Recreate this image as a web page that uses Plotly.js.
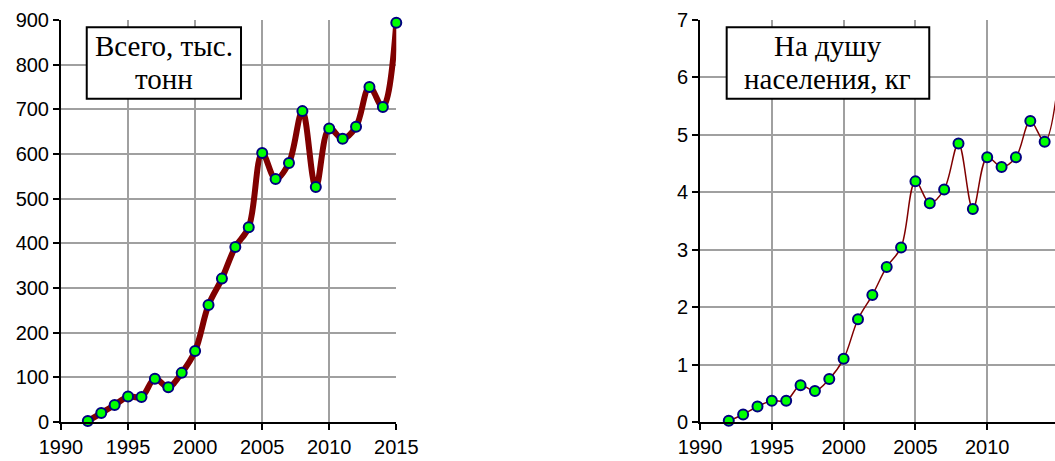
<!DOCTYPE html>
<html>
<head>
<meta charset="utf-8">
<script src="https://cdn.plot.ly/plotly-3.0.1.min.js"></script>
<style>html,body{margin:0;padding:0;background:#fff;overflow:hidden}</style>
</head>
<body>
<div id="chart" style="width:1055px;height:461px"></div>
<script>
const years = [1992,1993,1994,1995,1996,1997,1998,1999,2000,2001,2002,2003,2004,2005,2006,2007,2008,2009,2010,2011,2012,2013,2014,2015];
const totalThousandTonnes = [2,20,38,57,56,97,78,110,159,262,321,392,436,602,544,580,696,526,657,634,661,750,705,894];
const perCapitaKg = [0.02,0.13,0.27,0.37,0.37,0.64,0.54,0.75,1.10,1.79,2.21,2.70,3.04,4.19,3.81,4.05,4.85,3.71,4.61,4.44,4.61,5.24,4.88,6.06];
const xTicks = [1990,1995,2000,2005,2010,2015];
const leftLabelLines = ['Всего, тыс.', 'тонн'];
const rightLabelLines = ['На душу', 'населения, кг'];

const marker = {size: 10, color: '#00ff00', line: {color: '#000080', width: 2}};
const traces = [
  {x: years, y: totalThousandTonnes, xaxis: 'x', yaxis: 'y', mode: 'lines+markers',
   line: {color: '#800000', width: 6, shape: 'spline', smoothing: 1}, marker: marker, cliponaxis: false},
  {x: years, y: perCapitaKg, xaxis: 'x2', yaxis: 'y2', mode: 'lines+markers',
   line: {color: '#800000', width: 1.5, shape: 'spline', smoothing: 1}, marker: marker, cliponaxis: false}
];

const tickFont = {family: 'Liberation Sans, Arial, sans-serif', size: 20, color: '#000'};
const xBase = {tickvals: xTicks, ticktext: xTicks.map(String), ticks: 'outside', ticklen: 6, tickwidth: 2, tickcolor: '#000',
  showline: true, linecolor: '#000', linewidth: 2, showgrid: true, gridcolor: '#a0a0a0', gridwidth: 2,
  zeroline: false, tickfont: tickFont, fixedrange: true};
const yBase = {ticks: 'outside', ticklen: 6, tickwidth: 2, tickcolor: '#000',
  showline: true, linecolor: '#000', linewidth: 2, showgrid: true, gridcolor: '#a0a0a0', gridwidth: 2,
  zeroline: false, tickfont: tickFont, fixedrange: true};

const serif = {family: 'Liberation Serif, Times New Roman, serif', size: 29, color: '#000'};
function label(x, y, text) {
  return {xref: 'paper', yref: 'paper', x: x, y: y, xanchor: 'center', yanchor: 'middle',
    text: text, showarrow: false, font: serif, align: 'center'};
}

const layout = {
  width: 1055, height: 461,
  margin: {l: 61, r: 0, t: 20, b: 39},
  showlegend: false,
  paper_bgcolor: '#fff', plot_bgcolor: '#fff',
  xaxis: Object.assign({}, xBase, {domain: [0, 0.3373], range: [1990, 2015], anchor: 'y'}),
  yaxis: Object.assign({}, yBase, {domain: [0, 1], range: [0, 900], dtick: 100, tick0: 0, anchor: 'x'}),
  xaxis2: Object.assign({}, xBase, {domain: [0.6429, 1], range: [1990, 2014.72], anchor: 'y2'}),
  yaxis2: Object.assign({}, yBase, {domain: [0, 1], range: [0, 7], dtick: 1, tick0: 0, anchor: 'x2'}),
  shapes: [
    {type: 'rect', xref: 'paper', yref: 'paper', x0: 0.0259, x1: 0.1811, y0: 0.8042, y1: 0.9818,
     line: {color: '#000', width: 2}, fillcolor: '#fff', layer: 'above'},
    {type: 'rect', xref: 'paper', yref: 'paper', x0: 0.6697, x1: 0.8735, y0: 0.8042, y1: 0.9818,
     line: {color: '#000', width: 2}, fillcolor: '#fff', layer: 'above'}
  ],
  annotations: [
    label(0.1035, 0.9353, leftLabelLines[0]),
    label(0.1035, 0.8532, leftLabelLines[1]),
    label(0.7716, 0.9353, rightLabelLines[0]),
    label(0.7716, 0.8532, rightLabelLines[1])
  ]
};

Plotly.newPlot('chart', traces, layout, {staticPlot: true, displayModeBar: false});
</script>
</body>
</html>
